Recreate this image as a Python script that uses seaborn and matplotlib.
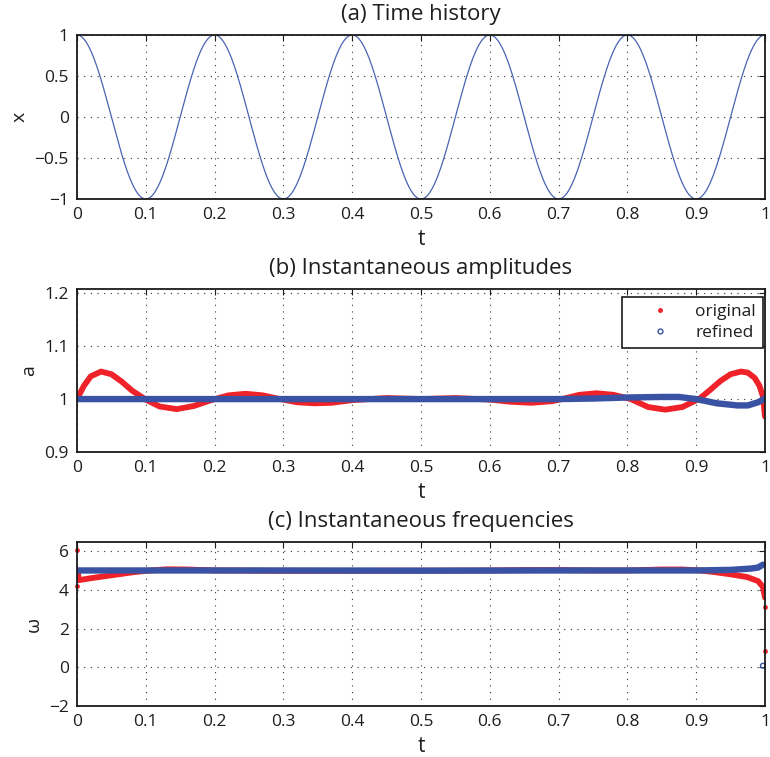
import numpy as np
import pandas as pd
import matplotlib
matplotlib.use("Agg")
import matplotlib.pyplot as plt
from matplotlib.lines import Line2D
from matplotlib.ticker import FuncFormatter
import seaborn as sns

# ---- (a) time history: unit-amplitude harmonic signal at 5 Hz ----
amplitude = 1.0
frequency = 5.0

# ---- (b) instantaneous amplitudes ----
amp_orig_t = [0.000, 0.010, 0.020, 0.035, 0.050, 0.065, 0.080, 0.100, 0.120, 0.145,
              0.170, 0.195, 0.220, 0.245, 0.270, 0.295, 0.320, 0.345, 0.370, 0.400,
              0.450, 0.500, 0.550, 0.600, 0.630, 0.660, 0.690, 0.705, 0.730, 0.755,
              0.780, 0.805, 0.830, 0.855, 0.880, 0.905, 0.920, 0.935, 0.950, 0.965,
              0.975, 0.985, 0.992, 0.997, 1.000]
amp_orig = [1.000, 1.025, 1.043, 1.052, 1.047, 1.033, 1.016, 0.999, 0.986, 0.981,
            0.987, 0.998, 1.007, 1.010, 1.007, 1.000, 0.994, 0.992, 0.993, 0.998,
            1.002, 1.000, 1.002, 0.999, 0.995, 0.993, 0.996, 1.000, 1.008, 1.011,
            1.008, 1.000, 0.985, 0.980, 0.985, 1.001, 1.017, 1.034, 1.047, 1.052,
            1.050, 1.040, 1.025, 1.005, 0.967]
amp_ref_t = [0.00, 0.10, 0.30, 0.50, 0.70, 0.75, 0.80, 0.85, 0.875, 0.90,
             0.93, 0.96, 0.975, 0.99, 1.00]
amp_ref = [1.000, 1.000, 1.000, 1.000, 1.000, 1.001, 1.003, 1.004, 1.004, 1.000,
           0.992, 0.988, 0.988, 0.994, 1.001]

# ---- (c) instantaneous frequencies ----
freq_orig_t = [0.001, 0.003, 0.020, 0.050, 0.080, 0.100, 0.130, 0.160, 0.200, 0.300,
               0.400, 0.500, 0.600, 0.650, 0.700, 0.750, 0.800, 0.850, 0.880, 0.906,
               0.930, 0.950, 0.974, 0.990, 0.997, 1.000]
freq_orig = [4.90, 4.50, 4.60, 4.75, 4.90, 4.98, 5.06, 5.05, 5.00, 4.98,
             4.98, 4.99, 5.00, 5.02, 5.02, 5.00, 5.00, 5.05, 5.05, 5.00,
             4.90, 4.80, 4.66, 4.45, 4.15, 3.60]
freq_orig_pts_t = [0.000, 0.000, 1.000, 1.000]
freq_orig_pts = [6.05, 4.20, 3.10, 0.86]
freq_ref_t = [0.000, 0.100, 0.300, 0.500, 0.700, 0.900, 0.950, 0.980, 0.990, 0.997]
freq_ref = [5.00, 5.00, 5.00, 4.99, 5.00, 5.00, 5.03, 5.10, 5.15, 5.30]
freq_ref_pts_t = [0.997]
freq_ref_pts = [0.08]

x_ticks = [0, 0.1, 0.2, 0.3, 0.4, 0.5, 0.6, 0.7, 0.8, 0.9, 1.0]

RED = "#ee2228"
BLUE = "#3a52a3"
THIN_BLUE = "#4a63b3"
INK = "#1e1e1e"

sns.set_style("white")
plt.rcParams["font.family"] = ["Open Sans", "DejaVu Sans"]
plt.rcParams["axes.unicode_minus"] = True

fig = plt.figure(figsize=(7.70, 7.57), dpi=100)
W, H = 770, 757


def px_axes(left, top, right, bottom):
    return fig.add_axes([left / W, (H - bottom) / H, (right - left) / W, (bottom - top) / H])


ax_a = px_axes(77, 35, 765, 199)
ax_b = px_axes(77, 289, 765, 452)
ax_c = px_axes(77, 542, 765, 706)

# (a) time history
t_dense = np.linspace(0, 1, 2001)
df_a = pd.DataFrame({"t": t_dense, "x": amplitude * np.cos(2 * np.pi * frequency * t_dense)})
sns.lineplot(data=df_a, x="t", y="x", ax=ax_a, color=THIN_BLUE, linewidth=0.9,
             estimator=None, sort=False)

# (b) amplitudes
df_bo = pd.DataFrame({"t": amp_orig_t, "a": amp_orig})
df_br = pd.DataFrame({"t": amp_ref_t, "a": amp_ref})
sns.lineplot(data=df_bo, x="t", y="a", ax=ax_b, color=RED, linewidth=4.2,
             estimator=None, sort=False, solid_capstyle="round", solid_joinstyle="round")
sns.lineplot(data=df_br, x="t", y="a", ax=ax_b, color=BLUE, linewidth=4.6,
             estimator=None, sort=False, solid_capstyle="round", solid_joinstyle="round")

# (c) frequencies
df_co = pd.DataFrame({"t": freq_orig_t, "w": freq_orig})
df_cr = pd.DataFrame({"t": freq_ref_t, "w": freq_ref})
sns.lineplot(data=df_co, x="t", y="w", ax=ax_c, color=RED, linewidth=4.2,
             estimator=None, sort=False, solid_capstyle="round", solid_joinstyle="round")
sns.scatterplot(x=freq_orig_pts_t, y=freq_orig_pts, ax=ax_c, color=RED, s=12,
                linewidth=0, clip_on=False)
sns.lineplot(data=df_cr, x="t", y="w", ax=ax_c, color=BLUE, linewidth=4.6,
             estimator=None, sort=False, solid_capstyle="round", solid_joinstyle="round")
sns.scatterplot(x=freq_ref_pts_t, y=freq_ref_pts, ax=ax_c, facecolor="none",
                edgecolor=BLUE, s=12, linewidth=1.0, clip_on=False)

gfmt = FuncFormatter(lambda v, p: ("%g" % v).replace("-", "\u2212"))

settings = [
    (ax_a, "(a) Time history", "x", (-1, 1), [-1, -0.5, 0, 0.5, 1]),
    (ax_b, "(b) Instantaneous amplitudes", "a", (0.9, 1.208), [0.9, 1.0, 1.1, 1.2]),
    (ax_c, "(c) Instantaneous frequencies", "\u03c9", (-2, 6.47), [-2, 0, 2, 4, 6]),
]
for ax, title, ylab, ylim, yt in settings:
    ax.set_xlim(0, 1)
    ax.set_ylim(*ylim)
    ax.set_xticks(x_ticks)
    ax.set_yticks(yt)
    ax.xaxis.set_major_formatter(gfmt)
    ax.yaxis.set_major_formatter(gfmt)
    ax.set_title(title, fontsize=16, color=INK, pad=11)
    ax.set_xlabel("t", fontsize=15, color=INK, labelpad=4)
    ax.set_ylabel(ylab, fontsize=14, color=INK, labelpad=4)
    ax.grid(True, color="#333333", linestyle=(0, (1, 5)), linewidth=0.8)
    ax.set_axisbelow(True)
    ax.tick_params(direction="in", length=4, width=0.8, top=True, right=True,
                   labelsize=12.5, colors=INK, pad=6)
    for sp in ax.spines.values():
        sp.set_color("#1a1a1a")
        sp.set_linewidth(1.3)
        sp.set_visible(True)

handles = [
    Line2D([], [], linestyle="none", marker=".", markersize=5, color=RED),
    Line2D([], [], linestyle="none", marker="o", markersize=3.5, markerfacecolor="none",
           markeredgecolor=BLUE, markeredgewidth=1.0),
]
leg = ax_b.legend(handles, ["original", "refined"], loc="upper right",
                  bbox_to_anchor=(0.997, 0.951), borderaxespad=0, fontsize=12.5,
                  frameon=True, fancybox=False, edgecolor="#1a1a1a", framealpha=1,
                  handlelength=3.5, handletextpad=0.3,
                  borderpad=0.4, labelspacing=0.3)
leg.get_frame().set_linewidth(1.2)
for txt in leg.get_texts():
    txt.set_color(INK)

fig.savefig("out.png", dpi=100)
